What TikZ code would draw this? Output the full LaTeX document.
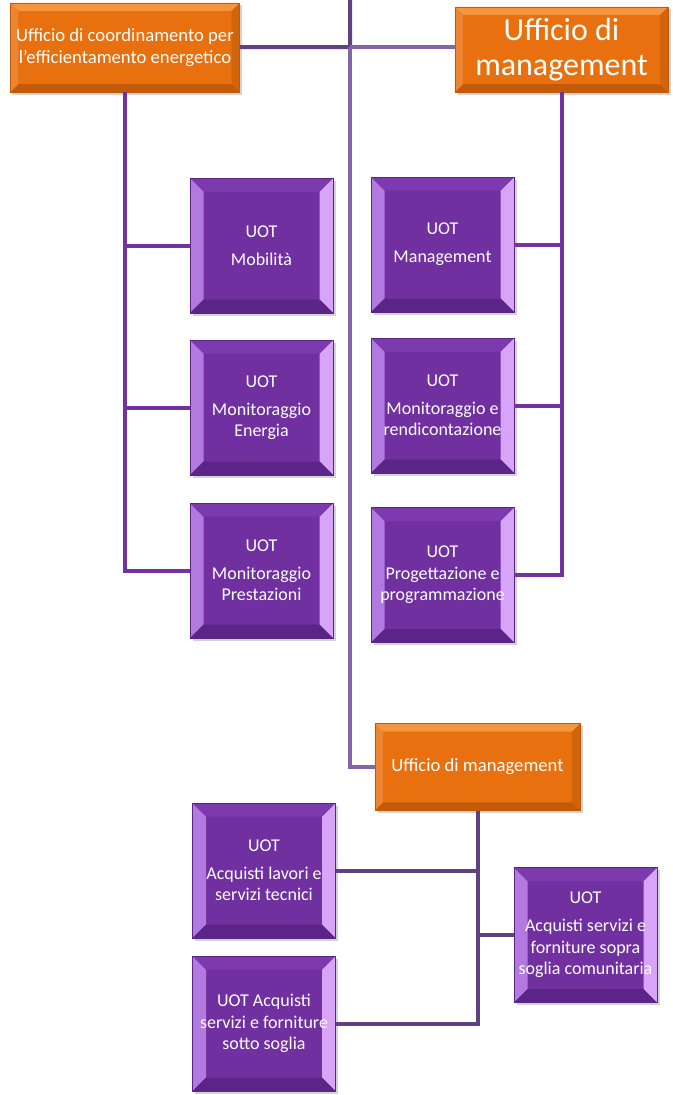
\documentclass[tikz,border=0pt]{standalone}
\usepackage{fontspec}
\setmainfont{Carlito}
\usetikzlibrary{shadows}
\definecolor{uotpurple}{HTML}{7030A0}
\definecolor{uotleft}{HTML}{B27AE0}
\definecolor{uotright}{HTML}{D7A4F7}
\definecolor{uottop}{HTML}{7C3AAE}
\definecolor{uotbottom}{HTML}{5B2487}
\definecolor{ufforange}{HTML}{E8700E}
\definecolor{uffotop}{HTML}{F7953F}
\definecolor{uffobottom}{HTML}{C25A08}
\definecolor{treepurple}{HTML}{7232A2}
\definecolor{trunkviolet}{HTML}{8466A8}
\definecolor{treedark}{HTML}{5F437E}

\begin{document}
\begin{tikzpicture}[x=0.75pt,y=-0.75pt,
uotbox/.style={rectangle, fill=uotpurple, draw=uotbottom, text=white, align=center,
  minimum width=107pt, minimum height=101pt, inner sep=0pt,
  font=\fontsize{13.5}{16}\selectfont,
  drop shadow={opacity=0.35, shadow xshift=2pt, shadow yshift=-2pt},
  path picture={
    \fill[uotleft] (path picture bounding box.north west) -- ([shift={(10pt,-10pt)}]path picture bounding box.north west)
      -- ([shift={(10pt,10pt)}]path picture bounding box.south west) -- (path picture bounding box.south west) -- cycle;
    \fill[uotright] (path picture bounding box.north east) -- ([shift={(-10pt,-10pt)}]path picture bounding box.north east)
      -- ([shift={(-10pt,10pt)}]path picture bounding box.south east) -- (path picture bounding box.south east) -- cycle;
    \fill[uottop] (path picture bounding box.north west) -- ([shift={(10pt,-10pt)}]path picture bounding box.north west)
      -- ([shift={(-10pt,-10pt)}]path picture bounding box.north east) -- (path picture bounding box.north east) -- cycle;
    \fill[uotbottom] (path picture bounding box.south west) -- ([shift={(10pt,10pt)}]path picture bounding box.south west)
      -- ([shift={(-10pt,10pt)}]path picture bounding box.south east) -- (path picture bounding box.south east) -- cycle;
  }},
uffbox/.style={rectangle, fill=ufforange, draw=uffobottom, text=white, align=center, inner sep=0pt,
  drop shadow={opacity=0.35, shadow xshift=2pt, shadow yshift=-2pt},
  path picture={
    \fill[uffotop] (path picture bounding box.north west) -- ([shift={(6pt,-6pt)}]path picture bounding box.north west)
      -- ([shift={(-6pt,-6pt)}]path picture bounding box.north east) -- (path picture bounding box.north east) -- cycle;
    \fill[uffobottom] (path picture bounding box.south west) -- ([shift={(6pt,6pt)}]path picture bounding box.south west)
      -- ([shift={(-6pt,6pt)}]path picture bounding box.south east) -- (path picture bounding box.south east) -- cycle;
    \fill[ufforange!85!white] (path picture bounding box.north west) -- ([shift={(6pt,-6pt)}]path picture bounding box.north west)
      -- ([shift={(6pt,6pt)}]path picture bounding box.south west) -- (path picture bounding box.south west) -- cycle;
    \fill[ufforange!90!black] (path picture bounding box.north east) -- ([shift={(-6pt,-6pt)}]path picture bounding box.north east)
      -- ([shift={(-6pt,6pt)}]path picture bounding box.south east) -- (path picture bounding box.south east) -- cycle;
  }},
treeline/.style={line width=3pt, draw=treepurple},
]
\useasboundingbox (0,0) rectangle (673,1095);

\coordinate (top) at (350,0);
\coordinate (hub) at (350,47);

%Offices
\node[uffbox, minimum width=172pt, minimum height=67pt, font=\fontsize{14}{16}\selectfont] (ucoord) at (125,47.5)
  {Ufficio di coordinamento per\\l'efficientamento energetico};
\node[uffbox, minimum width=160pt, minimum height=64pt, font=\fontsize{24}{26}\selectfont] (umgmt) at (561.5,49.5)
  {Ufficio di\\management};
\node[uffbox, minimum width=154pt, minimum height=65pt, font=\fontsize{14}{16}\selectfont] (mgmtb) at (477.5,767)
  {Ufficio di management};

%UOT left column
\node[uotbox] (mob) at (261.5,245.5) {UOT\\[5pt]Mobilità};
\node[uotbox] (ene) at (261.5,407.5) {UOT\\[5pt]Monitoraggio\\Energia};
\node[uotbox] (pre) at (261.5,570.5) {UOT\\[5pt]Monitoraggio\\Prestazioni};

%UOT right column
\node[uotbox] (man) at (442.5,244.5) {UOT\\[5pt]Management};
\node[uotbox] (ren) at (442.5,405.5) {UOT\\[5pt]Monitoraggio e\\rendicontazione};
\node[uotbox] (prog) at (442.5,575) {UOT\\Progettazione e\\programmazione};

%UOT bottom
\node[uotbox] (lav) at (264,870.5) {UOT\\[5pt]Acquisti lavori e\\servizi tecnici};
\node[uotbox] (sotto) at (264,1023.5) {UOT Acquisti\\servizi e forniture\\sotto soglia};
\node[uotbox] (sopra) at (585.5,935) {UOT\\[5pt]Acquisti servizi e\\forniture sopra\\soglia comunitaria};

%Connectors
\draw[treeline, draw=treedark] (top) -- (hub) -- (ucoord);
\draw[treeline, draw=trunkviolet] (hub) -- (umgmt.west |- hub);
\draw[treeline, draw=trunkviolet] (hub) |- (mgmtb);
\foreach \n in {mob,ene,pre} \draw[treeline] (ucoord.south) |- (\n.west);
\foreach \n in {man,ren,prog} \draw[treeline] (umgmt.south) |- (\n.east);
\foreach \n in {lav,sotto} \draw[treeline, draw=treedark] (mgmtb.south) |- (\n.east);
\draw[treeline, draw=treedark] (mgmtb.south) |- (sopra.west);
\end{tikzpicture}
\end{document}
